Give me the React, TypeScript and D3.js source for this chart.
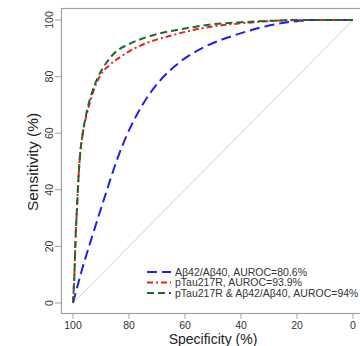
import React, { useEffect, useRef } from "react";
import * as d3 from "d3";

// tick values (specificity is drawn reversed, 100 -> 0)
const specTicks = [100, 80, 60, 40, 20, 0];
const sensTicks = [0, 20, 40, 60, 80, 100];

// Aβ42/Aβ40 ROC curve (specificity, sensitivity in %)
const abSpec = [100, 97.3, 93, 88.5, 84.5, 80.7, 75.5, 69, 62, 53, 42, 31, 20, 15, 0];
const abSens = [0, 10, 24, 38, 50, 59.5, 69.5, 78.5, 85, 90.5, 94.7, 97.8, 99.6, 100, 100];

// pTau217R ROC curve
const ptSpec = [100, 99.5, 99, 98.5, 98, 97.5, 96.5, 95, 93, 90.5, 87, 83, 78, 72, 65, 57, 48, 38, 28, 15, 0];
const ptSens = [0, 10, 25, 35, 45, 52, 60, 67, 74, 80, 84, 87, 90, 92.5, 94.5, 96.5, 98, 99, 99.7, 100, 100];

// pTau217R & Aβ42/Aβ40 ROC curve
const coSpec = [100, 99.5, 99, 98.5, 98, 97.5, 96.5, 95, 93, 91, 88, 85, 80, 75, 68, 60, 50, 40, 30, 20, 0];
const coSens = [0, 10, 25, 35, 45, 52, 60, 68, 75, 80, 85, 88.5, 91.5, 93.5, 95.5, 97, 98.5, 99.2, 99.7, 100, 100];

const legendLabels = [
  "Aβ42/Aβ40, AUROC=80.6%",
  "pTau217R, AUROC=93.9%",
  "pTau217R & Aβ42/Aβ40, AUROC=94%",
];

const series = [
  { spec: abSpec, sens: abSens, color: "#1e1ef0", dash: "10,5" },
  { spec: ptSpec, sens: ptSens, color: "#ec1f1f", dash: "6,3,2,3" },
  { spec: coSpec, sens: coSens, color: "#1b6a2b", dash: "7,4" },
];

const App = () => {
  const ref = useRef<SVGSVGElement>(null);

  useEffect(() => {
    const svg = d3.select(ref.current);
    svg.selectAll("*").remove();

    const x = d3.scaleLinear().domain([100, 0]).range([73, 353]);
    const y = d3.scaleLinear().domain([0, 100]).range([303, 20]);
    const font = "Liberation Sans, Arial, sans-serif";

    // frame
    svg.append("rect")
      .attr("x", 61.5).attr("y", 8.5)
      .attr("width", 305).attr("height", 305)
      .attr("fill", "none")
      .attr("stroke", "#a0a0a0")
      .attr("stroke-width", 1.2);

    // diagonal reference line
    svg.append("line")
      .attr("x1", x(100)).attr("y1", y(0))
      .attr("x2", x(0)).attr("y2", y(100))
      .attr("stroke", "#d0d0d0")
      .attr("stroke-width", 1);

    // y ticks + labels (rotated like base R)
    const yt = svg.append("g");
    sensTicks.forEach((t) => {
      yt.append("line")
        .attr("x1", 61).attr("x2", 55)
        .attr("y1", y(t)).attr("y2", y(t))
        .attr("stroke", "#a0a0a0");
      yt.append("text")
        .attr("transform", `translate(52.5,${y(t)}) rotate(-90)`)
        .attr("text-anchor", "middle")
        .attr("font-family", font)
        .attr("font-size", 10.5)
        .attr("fill", "#333")
        .text(t);
    });

    // x ticks + labels
    const xt = svg.append("g");
    specTicks.forEach((t) => {
      xt.append("line")
        .attr("x1", x(t)).attr("x2", x(t))
        .attr("y1", 313).attr("y2", 319)
        .attr("stroke", "#a0a0a0");
      xt.append("text")
        .attr("x", x(t)).attr("y", 329)
        .attr("text-anchor", "middle")
        .attr("font-family", font)
        .attr("font-size", 10.5)
        .attr("fill", "#333")
        .text(t);
    });

    // axis titles
    svg.append("text")
      .attr("x", 213).attr("y", 344)
      .attr("text-anchor", "middle")
      .attr("font-family", font)
      .attr("font-size", 14)
      .attr("fill", "#222")
      .text("Specificity (%)");
    svg.append("text")
      .attr("transform", "translate(37.5,162) rotate(-90)")
      .attr("text-anchor", "middle")
      .attr("font-family", font)
      .attr("font-size", 15.5)
      .attr("fill", "#222")
      .text("Sensitivity (%)");

    // ROC curves
    const line = d3.line<[number, number]>()
      .x((d) => x(d[0]))
      .y((d) => y(d[1]))
      .curve(d3.curveMonotoneX);

    series.forEach((s) => {
      const pts = s.spec.map((v, i) => [v, s.sens[i]] as [number, number]);
      svg.append("path")
        .attr("d", line(pts))
        .attr("fill", "none")
        .attr("stroke", s.color)
        .attr("stroke-width", 2)
        .attr("stroke-dasharray", s.dash);
    });

    // legend
    const lg = svg.append("g");
    legendLabels.forEach((lab, i) => {
      const ly = 272 + i * 10.5;
      lg.append("line")
        .attr("x1", 147).attr("x2", 171)
        .attr("y1", ly).attr("y2", ly)
        .attr("stroke", series[i].color)
        .attr("stroke-width", 2)
        .attr("stroke-dasharray", series[i].dash);
      lg.append("text")
        .attr("x", 175).attr("y", ly + 3.5)
        .attr("font-family", font)
        .attr("font-size", 10.5)
        .attr("fill", "#333")
        .text(lab);
    });
  }, []);

  return (
    <div style={{ position: "fixed", left: 0, top: 0 }}>
      <svg ref={ref} width={360} height={346} style={{ display: "block", background: "#fff" }} />
    </div>
  );
};

export default App;
